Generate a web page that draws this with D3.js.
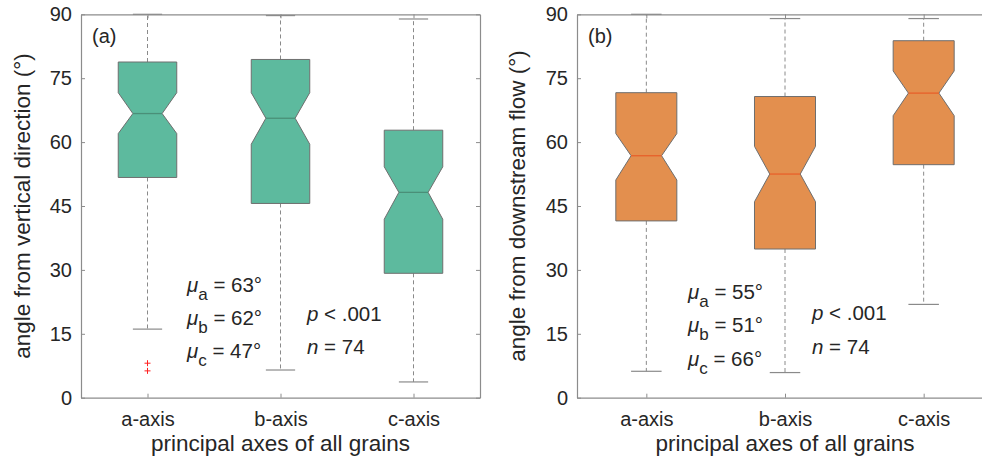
<!DOCTYPE html>
<html>
<head>
<meta charset="utf-8">
<script src="https://cdn.jsdelivr.net/npm/d3@7"></script>
<style>
  html, body { margin: 0; padding: 0; background: #fff; }
  svg { display: block; }
  text { font-family: "Liberation Sans", Arial, Helvetica, sans-serif; fill: #262626; }
</style>
</head>
<body>
<svg id="chart" width="982" height="459"></svg>
<script>
// ---- data ----
const categories = ["a-axis", "b-axis", "c-axis"];
const yTicks = [0, 15, 30, 45, 60, 75, 90];

// panel (a): angle from vertical direction
const aWhiskerLow  = [16.1, 6.5, 3.7];
const aQ1          = [51.7, 45.6, 29.2];
const aNotchLow    = [62.0, 59.5, 41.9];
const aMedian      = [66.7, 65.6, 48.2];
const aNotchHigh   = [71.6, 71.6, 54.2];
const aQ3          = [78.8, 79.4, 62.8];
const aWhiskerHigh = [90.0, 89.7, 88.9];
const aOutliers    = [[8.1, 6.3], [], []];
const aMeans       = ["63°", "62°", "47°"];

// panel (b): angle from downstream flow
const bWhiskerLow  = [6.2, 5.9, 21.9];
const bQ1          = [41.5, 34.9, 54.7];
const bNotchLow    = [51.1, 46.0, 66.2];
const bMedian      = [56.8, 52.5, 71.5];
const bNotchHigh   = [62.0, 59.0, 76.7];
const bQ3          = [71.6, 70.7, 83.8];
const bWhiskerHigh = [90.0, 89.0, 89.0];
const bOutliers    = [[], [], []];
const bMeans       = ["55°", "51°", "66°"];

const subs = ["a", "b", "c"];

const svg = d3.select("#chart");

function panel(cfg) {
  const g = svg.append("g");
  const x = d3.scalePoint().domain(categories).range([cfg.left, cfg.right]).padding(0.5);
  const y = d3.scaleLinear().domain([0, 90]).range([cfg.bottom, cfg.top]);
  const step = x.step();
  const hw = step * 0.22;       // box half width
  const nw = hw * 0.5;          // notch half width
  const cw = hw * 0.5;          // cap half width

  // whiskers (dashed)
  categories.forEach((c, i) => {
    const cx = x(c);
    g.append("line").attr("x1", cx).attr("x2", cx)
      .attr("y1", y(cfg.q3[i])).attr("y2", y(cfg.wh[i]))
      .attr("stroke", "#8a8a8a").attr("stroke-width", 1).attr("stroke-dasharray", "4,3");
    g.append("line").attr("x1", cx).attr("x2", cx)
      .attr("y1", y(cfg.q1[i])).attr("y2", y(cfg.wl[i]))
      .attr("stroke", "#8a8a8a").attr("stroke-width", 1).attr("stroke-dasharray", "4,3");
    // caps
    [cfg.wh[i], cfg.wl[i]].forEach(v => {
      g.append("line").attr("x1", cx - cw).attr("x2", cx + cw)
        .attr("y1", y(v)).attr("y2", y(v))
        .attr("stroke", "#8a8a8a").attr("stroke-width", 1.2);
    });
  });

  // notched boxes
  categories.forEach((c, i) => {
    const cx = x(c);
    const pts = [
      [cx - hw, y(cfg.q1[i])], [cx + hw, y(cfg.q1[i])],
      [cx + hw, y(cfg.nl[i])], [cx + nw, y(cfg.med[i])],
      [cx + hw, y(cfg.nh[i])], [cx + hw, y(cfg.q3[i])],
      [cx - hw, y(cfg.q3[i])], [cx - hw, y(cfg.nh[i])],
      [cx - nw, y(cfg.med[i])], [cx - hw, y(cfg.nl[i])]
    ];
    g.append("path").attr("d", d3.line()(pts) + "Z")
      .attr("fill", cfg.fill).attr("stroke", "#6e6e6e").attr("stroke-width", 1);
    g.append("line").attr("x1", cx - nw).attr("x2", cx + nw)
      .attr("y1", y(cfg.med[i])).attr("y2", y(cfg.med[i]))
      .attr("stroke", cfg.medColor).attr("stroke-width", 1.3);
    // outliers
    cfg.out[i].forEach(v => {
      g.append("path").attr("d", `M${cx - 3},${y(v)}H${cx + 3}M${cx},${y(v) - 3}V${y(v) + 3}`)
        .attr("stroke", "#ff2020").attr("stroke-width", 1);
    });
  });

  // axes frame
  const axisColor = "#8c8c8c";
  const yl = g.append("g").attr("transform", `translate(${cfg.left},0)`)
    .call(d3.axisLeft(y).tickValues(yTicks).tickSizeInner(-4).tickSizeOuter(0).tickPadding(9));
  const yr = g.append("g").attr("transform", `translate(${cfg.right},0)`)
    .call(d3.axisRight(y).tickValues(yTicks).tickSizeInner(-4).tickSizeOuter(0).tickFormat(""));
  const xb = g.append("g").attr("transform", `translate(0,${cfg.bottom})`)
    .call(d3.axisBottom(x).tickSizeInner(-4).tickSizeOuter(0).tickPadding(14));
  const xt = g.append("g").attr("transform", `translate(0,${cfg.top})`)
    .call(d3.axisTop(x).tickSizeInner(-4).tickSizeOuter(0).tickFormat(""));
  [yl, yr, xb, xt].forEach(a => {
    a.selectAll("path.domain").attr("stroke", axisColor).attr("stroke-width", 1.2);
    a.selectAll(".tick line").attr("stroke", axisColor);
    a.selectAll(".tick text").attr("fill", "#262626")
      .style("font-family", '"Liberation Sans", Arial, sans-serif').style("font-size", "20px");
  });
  xb.selectAll(".tick text").attr("dy", "0.71em");

  // axis labels
  g.append("text").attr("transform", `translate(${cfg.ylabX},${(cfg.top + cfg.bottom) / 2}) rotate(-90)`)
    .attr("text-anchor", "middle").style("font-size", "22.5px").text(cfg.ylabel);
  g.append("text").attr("x", (cfg.left + cfg.right) / 2).attr("y", 451)
    .attr("text-anchor", "middle").style("font-size", "22.5px").text("principal axes of all grains");

  // panel tag
  g.append("text").attr("x", cfg.left + 11).attr("y", 43).style("font-size", "20px").text(cfg.tag);

  // means annotation
  cfg.means.forEach((m, i) => {
    const t = g.append("text").attr("x", cfg.muX).attr("y", cfg.muY[i]).style("font-size", "20.5px");
    t.append("tspan").style("font-style", "italic").text("μ");
    t.append("tspan").attr("dy", 8).style("font-size", "17px").text(subs[i]);
    t.append("tspan").attr("dy", -8).text(" = " + m);
  });
  const p = g.append("text").attr("x", cfg.pX).attr("y", cfg.pY[0]).style("font-size", "20.5px");
  p.append("tspan").style("font-style", "italic").text("p");
  p.append("tspan").text(" < .001");
  const n = g.append("text").attr("x", cfg.pX).attr("y", cfg.pY[1]).style("font-size", "20.5px");
  n.append("tspan").style("font-style", "italic").text("n");
  n.append("tspan").text(" = 74");
}

panel({
  left: 81, right: 480, top: 14.3, bottom: 397.7,
  wl: aWhiskerLow, q1: aQ1, nl: aNotchLow, med: aMedian, nh: aNotchHigh, q3: aQ3, wh: aWhiskerHigh,
  out: aOutliers, means: aMeans,
  fill: "#5dba9e", medColor: "#4a8f78",
  ylabel: "angle from vertical direction (°)", ylabX: 30, tag: "(a)",
  muX: 187, muY: [292, 325, 357.5], pX: 307, pY: [320.7, 354]
});

panel({
  left: 577, right: 993, top: 14.3, bottom: 397.7,
  wl: bWhiskerLow, q1: bQ1, nl: bNotchLow, med: bMedian, nh: bNotchHigh, q3: bQ3, wh: bWhiskerHigh,
  out: bOutliers, means: bMeans,
  fill: "#e38f4e", medColor: "#e8602a",
  ylabel: "angle from downstream flow (°)", ylabX: 525, tag: "(b)",
  muX: 688, muY: [298.5, 332, 365.5], pX: 812, pY: [320, 354]
});
</script>
</body>
</html>
